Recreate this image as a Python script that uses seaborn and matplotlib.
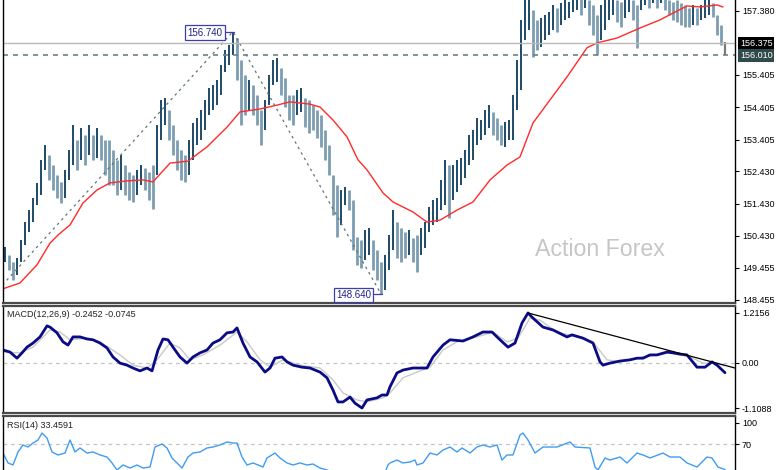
import numpy as np
import matplotlib
matplotlib.use("Agg")
import matplotlib.pyplot as plt
from matplotlib import transforms
import seaborn as sns

# ---------------- data ----------------
highs = [
    150.09, 149.84, 149.63, 149.75, 150.31, 150.86, 151.23, 151.60, 152.07, 152.78,
    153.24, 152.93, 152.62, 152.31, 152.10, 152.47, 153.09, 153.86, 153.39, 153.76,
    153.55, 153.86, 153.55, 153.76, 153.55, 153.39, 153.39, 153.09, 152.78, 152.93,
    152.62, 152.41, 152.31, 152.47, 152.62, 152.53, 152.41, 152.62, 153.86, 154.63,
    154.69, 154.32, 153.86, 153.39, 153.09, 152.93, 153.39, 153.92, 154.07, 154.32,
    154.63, 155.00, 155.09, 155.25, 155.71, 156.17, 156.33, 156.74, 156.54, 155.86,
    155.40, 155.25, 155.09, 154.78, 154.32, 154.63, 155.40, 155.86, 155.92, 155.61,
    155.31, 154.78, 154.78, 154.94, 155.00, 154.69, 154.63, 154.47, 154.32, 154.16,
    153.70, 153.24, 152.31, 152.00, 151.85, 151.94, 151.85, 151.54, 150.40, 150.31,
    150.62, 150.68, 150.31, 150.00, 149.63, 149.84, 150.46, 151.23, 150.86, 150.68,
    150.55, 150.62, 150.37, 150.46, 150.68, 150.86, 151.32, 151.54, 151.60, 152.16,
    152.78, 152.62, 152.62, 152.78, 152.84, 153.09, 153.55, 153.70, 154.07, 154.01,
    154.32, 154.47, 154.26, 154.07, 153.86, 153.95, 154.01, 154.78, 155.86, 157.10,
    158.02, 157.87, 157.41, 157.10, 157.16, 157.25, 157.34, 157.56, 157.47, 157.62,
    157.71, 157.65, 157.81, 157.87, 157.78, 157.87, 157.71, 157.56, 157.25, 157.56,
    157.71, 157.87, 157.81, 157.71, 157.65, 157.78, 157.87, 157.71, 157.56, 157.87,
    157.96, 157.90, 158.02, 157.87, 157.96, 157.87, 157.71, 157.65, 157.71, 157.62,
    157.56, 157.47, 157.56, 157.47, 157.56, 157.71, 157.71, 157.62, 157.25, 156.94,
    156.42]
lows = [
    149.63, 149.38, 149.07, 149.23, 149.63, 150.15, 150.55, 150.86, 151.39, 151.70,
    152.47, 152.16, 151.85, 151.60, 151.45, 151.60, 152.16, 152.62, 152.47, 152.78,
    152.62, 152.93, 152.78, 152.84, 152.78, 152.31, 152.00, 152.00, 151.70, 151.85,
    151.70, 151.54, 151.48, 151.70, 152.00, 151.85, 151.54, 151.26, 152.31, 153.39,
    153.86, 153.39, 152.93, 152.47, 152.16, 152.10, 152.31, 152.78, 153.24, 153.39,
    153.70, 154.16, 154.32, 154.47, 154.78, 155.49, 155.71, 156.02, 155.25, 153.86,
    154.16, 154.32, 154.16, 153.86, 153.24, 153.70, 154.47, 155.09, 155.18, 154.78,
    154.41, 154.01, 153.86, 154.16, 154.26, 153.79, 153.61, 153.70, 153.46, 153.18,
    152.78, 152.31, 151.08, 150.40, 150.77, 151.39, 151.23, 150.00, 149.54, 149.44,
    149.69, 149.84, 149.38, 149.07, 148.64, 148.76, 149.38, 150.00, 149.75, 149.63,
    149.75, 149.84, 149.63, 149.32, 149.84, 150.06, 150.55, 150.77, 150.86, 151.23,
    151.39, 150.99, 151.54, 151.79, 152.00, 152.22, 152.62, 152.78, 153.24, 153.39,
    153.55, 153.76, 153.55, 153.39, 153.24, 153.18, 153.39, 153.39, 154.32, 154.94,
    156.48, 156.79, 155.95, 156.17, 156.26, 156.48, 156.63, 156.79, 156.73, 156.94,
    157.10, 157.16, 157.34, 157.41, 157.25, 157.47, 156.94, 156.63, 156.02, 156.48,
    156.79, 157.10, 157.25, 157.03, 156.88, 157.16, 157.34, 157.10, 156.23, 157.41,
    157.56, 157.47, 157.62, 157.47, 157.62, 157.41, 157.25, 157.10, 157.03, 156.94,
    156.88, 156.88, 156.94, 156.94, 157.10, 157.16, 157.25, 157.19, 156.63, 156.33,
    156.01]

ma_x = [-0.75, 3.75, 8.0, 11.25, 13.25, 16.25, 19.5, 23.0, 26.25, 30.5, 34.5, 37.0,
        41.25, 45.75, 50.5, 55.5, 58.75, 63.75, 68.0, 71.25, 76.25, 78.75, 82.0, 85.5,
        88.25, 90.5, 94.5, 97.0, 102.0, 105.5, 108.75, 113.0, 117.0, 121.25, 125.5,
        128.75, 132.0, 136.25, 140.5, 145.5, 148.0, 153.0, 158.75, 163.75, 167.0,
        170.5, 173.75, 178.0, 179.5]
ma_y = [148.79, 148.98, 149.54, 150.21, 150.46, 150.77, 151.45, 151.85, 152.07, 152.13,
        152.16, 152.10, 152.68, 152.74, 153.18, 153.79, 154.26, 154.35, 154.47, 154.57,
        154.50, 154.41, 154.01, 153.49, 152.78, 152.47, 151.76, 151.48, 151.17, 150.86,
        150.92, 151.23, 151.48, 152.16, 152.62, 152.87, 153.92, 154.63, 155.34, 156.24,
        156.39, 156.54, 156.85, 157.10, 157.31, 157.53, 157.50, 157.56, 157.50]

zz_x = [-0.625, 57, 94]
zz_y = [148.92, 156.74, 148.64]

price_ticks = [157.380, 155.405, 154.405, 153.405, 152.430, 151.430, 150.430, 149.455, 148.455]
bid_price = 156.375
last_price = 156.010
high_label = 156.740
low_label = 148.640

macd_x = [-0.5, 1.25, 3.0, 4.25, 5.5, 7.0, 8.75, 10.5, 11.25, 13.0,
          14.5, 15.75, 17.0, 18.75, 20.5, 22.0, 23.75, 25.5, 27.0, 28.75,
          30.5, 32.0, 33.75, 35.5, 36.75, 38.25, 39.5, 40.75, 42.0, 43.75,
          45.5, 47.0, 48.75, 50.5, 52.0, 53.75, 55.5, 57.0, 58.0, 59.5,
          61.25, 63.0, 65.0, 66.25, 67.5, 69.25, 70.5, 72.0, 74.25, 76.25,
          78.75, 80.5, 82.0, 83.25, 84.5, 86.25, 87.5, 89.25, 90.5, 93.0,
          94.25, 95.5, 96.25, 98.0, 99.5, 102.0, 105.5, 107.0, 109.5, 111.25,
          114.5, 117.0, 119.5, 121.75, 123.75, 125.75, 127.5, 129.25, 130.75, 132.0,
          134.5, 137.0, 140.5, 141.75, 144.5, 147.0, 148.75, 149.5, 151.25, 153.75,
          156.25, 158.0, 159.5, 161.25, 163.0, 165.5, 167.0, 168.75, 170.5, 173.0,
          175.0, 176.75, 178.0, 180.0]
macd_y = [0.31, 0.26, 0.11, 0.24, 0.38, 0.48, 0.63, 0.90, 0.87, 0.73,
          0.51, 0.43, 0.63, 0.63, 0.58, 0.56, 0.48, 0.36, 0.14, -0.01,
          -0.06, -0.13, -0.20, -0.13, -0.20, 0.31, 0.58, 0.56, 0.38, 0.14,
          -0.01, 0.14, 0.24, 0.31, 0.48, 0.56, 0.73, 0.75, 0.85, 0.48,
          0.14, 0.02, -0.23, -0.13, 0.11, 0.14, 0.02, -0.06, -0.11, -0.13,
          -0.23, -0.37, -0.67, -0.96, -0.96, -0.84, -0.99, -1.1088, -0.91, -0.86,
          -0.79, -0.79, -0.59, -0.25, -0.18, -0.13, -0.13, 0.14, 0.43, 0.56,
          0.53, 0.63, 0.75, 0.75, 0.56, 0.38, 0.48, 0.97, 1.2156, 1.09,
          0.87, 0.80, 0.63, 0.68, 0.60, 0.48, 0.02, -0.06, -0.01, 0.04,
          0.07, 0.11, 0.11, 0.19, 0.19, 0.26, 0.24, 0.21, 0.19, -0.11,
          -0.11, 0.02, -0.06, -0.2452]
sig_x = [-0.5, 3.75, 7.0, 11.25, 13.75, 16.25, 20.5, 23.75, 28.75, 32.0,
         35.5, 38.0, 41.25, 43.75, 46.25, 49.5, 53.75, 58.0, 60.5, 63.75,
         66.25, 69.5, 73.75, 78.75, 82.0, 84.5, 88.0, 90.5, 94.5, 96.25,
         99.5, 103.0, 106.25, 109.5, 113.0, 118.0, 122.0, 125.5, 128.25, 131.25,
         133.75, 138.0, 143.0, 147.0, 150.5, 153.75, 159.5, 166.25, 171.25, 174.5,
         177.0, 180.0]
sig_y = [0.26, 0.24, 0.38, 0.80, 0.75, 0.56, 0.60, 0.51, 0.19, -0.06,
         -0.13, 0.07, 0.48, 0.36, 0.07, 0.19, 0.43, 0.75, 0.51, 0.07,
         -0.11, 0.07, -0.06, -0.13, -0.42, -0.74, -0.91, -0.96, -0.86, -0.74,
         -0.37, -0.23, -0.11, 0.31, 0.51, 0.63, 0.75, 0.51, 0.60, 1.09,
         1.04, 0.75, 0.63, 0.51, 0.07, 0.02, 0.14, 0.24, 0.14, -0.01,
         -0.01, -0.0745]
trend_x = [130.75, 182.5]
trend_y = [1.2156, -0.13]
macd_ticks = [1.2156, 0.0, -1.1088]
macd_ticklabels = ["1.2156", "0.00", "-1.1088"]

rsi_x = [-0.5, 0.75, 2.0, 3.25, 4.5, 5.75, 7.0, 8.25, 9.25, 10.5,
         11.75, 13.25, 15.0, 16.25, 17.5, 18.75, 20.5, 22.0, 23.75, 25.5,
         26.75, 28.0, 29.5, 31.25, 33.0, 34.5, 36.25, 37.5, 39.25, 40.5,
         41.75, 43.0, 44.25, 45.75, 47.0, 48.75, 50.5, 52.0, 53.75, 55.5,
         57.0, 58.0, 59.25, 60.5, 62.0, 64.5, 65.5, 67.5, 68.75, 70.5,
         72.0, 73.75, 75.5, 77.0, 78.75, 80.5, 82.5, 85.0, 87.5, 89.25,
         91.25, 93.25, 94.5, 95.75, 96.25, 98.0, 99.5, 101.25, 102.5, 103.0,
         104.5, 106.25, 108.0, 109.5, 111.25, 113.0, 114.25, 116.25, 118.0, 119.5,
         121.25, 123.0, 124.25, 125.5, 127.0, 128.75, 129.5, 130.75, 132.5, 134.5,
         138.0, 141.25, 142.5, 146.25, 147.5, 148.25, 150.0, 151.25, 153.75, 155.5,
         158.0, 159.5, 161.25, 164.5, 166.25, 168.75, 170.5, 173.0, 175.5, 176.75,
         178.25, 180.0]
rsi_y = [57.1, 42.9, 40.0, 58.6, 68.6, 65.7, 71.4, 75.7, 85.7, 78.6,
         58.6, 54.3, 57.1, 75.7, 58.6, 64.3, 57.1, 58.6, 54.3, 51.4,
         42.9, 32.9, 40.0, 35.7, 40.0, 35.7, 37.1, 65.7, 70.0, 64.3,
         50.0, 42.9, 35.7, 51.4, 57.1, 58.6, 64.3, 65.7, 68.6, 72.9,
         71.4, 71.4, 51.4, 40.0, 42.9, 37.1, 50.0, 57.1, 50.0, 42.9,
         40.0, 42.9, 40.0, 41.4, 35.7, 32.9, 28.0, 25.0, 27.0, 22.0,
         28.0, 25.0, 22.0, 40.0, 42.9, 47.1, 42.9, 44.3, 47.1, 40.0,
         42.9, 57.1, 54.3, 61.4, 65.7, 58.6, 64.3, 57.1, 65.7, 68.6,
         65.7, 68.6, 47.1, 54.3, 54.3, 82.9, 85.7, 75.7, 57.1, 65.7,
         65.7, 72.9, 65.7, 64.3, 37.1, 32.9, 50.0, 47.1, 51.4, 42.9,
         57.1, 54.3, 50.0, 57.1, 51.4, 51.4, 42.9, 37.1, 51.4, 50.0,
         37.1, 33.46]
rsi_ticks = [100, 70]

# ---------------- style ----------------
sns.set_theme(style="white")
plt.rcParams["font.family"] = ["Liberation Sans", "DejaVu Sans"]
FS = 6.5

fig = plt.figure(figsize=(7.8, 4.7), dpi=100)
L, W = 2.5 / 780, 732.5 / 780
ax = fig.add_axes([L, 167 / 470, W, 303 / 470])
axm = fig.add_axes([L, 57 / 470, W, 107 / 470])
axr = fig.add_axes([L, -30 / 470, W, 84 / 470])

XL = (-0.625, 182.5)

# ---------------- price bars ----------------
h = np.array(highs)
l = np.array(lows)
idx = np.arange(len(h))
mid = (h + l) / 2
up = np.r_[True, mid[1:] >= mid[:-1]]
last = idx == idx[-1]
dark = up & ~last
light = ~up & ~last
ax.vlines(idx[light], l[light], h[light], colors="#7d9db2", linewidth=2.0)
ax.vlines(idx[dark], l[dark], h[dark], colors="#1d4b68", linewidth=1.4)
ax.vlines(idx[last], l[last], h[last], colors="#7a7a7a", linewidth=1.6)

sns.lineplot(x=ma_x, y=ma_y, ax=ax, color="#ff2a2a", linewidth=1.0)
ax.plot(zz_x, zz_y, color="#5f7474", linewidth=0.9, linestyle=(0, (2, 3)))

ax.axhline(bid_price, color="#b9b9b9", linewidth=1.0)
ax.axhline(last_price, color="#6c8282", linewidth=1.2, linestyle=(0, (3, 3)))

ax.set_xlim(*XL)
ax.set_ylim(148.362, 157.714)
ax.set_xticks([])
ax.yaxis.tick_right()
ax.set_yticks(price_ticks)
ax.set_yticklabels([f"{t:.3f}" for t in price_ticks])
for a in (ax, axm, axr):
    a.tick_params(axis="y", which="both", right=True, left=False, length=3,
                  width=0.8, pad=2, labelsize=FS, colors="black")
    a.set_xticks([])
    a.set_xlim(*XL)
    for s in ("left", "right"):
        a.spines[s].set_color("black")
        a.spines[s].set_linewidth(1.0)
    for s in ("top", "bottom"):
        a.spines[s].set_color("#4a4a4a")
        a.spines[s].set_linewidth(1.6)
ax.spines["top"].set_visible(False)
axr.spines["bottom"].set_visible(False)

trans = transforms.blended_transform_factory(ax.transAxes, ax.transData)
ax.annotate(f"{bid_price:.3f}", xy=(1, bid_price), xycoords=trans, xytext=(3.5, 0),
            textcoords="offset points", ha="left", va="center", fontsize=FS,
            color="white", annotation_clip=False,
            bbox=dict(boxstyle="square,pad=0.22", fc="black", ec="none"))
ax.annotate(f"{last_price:.3f}", xy=(1, last_price), xycoords=trans, xytext=(3.5, 0),
            textcoords="offset points", ha="left", va="center", fontsize=FS,
            color="white", annotation_clip=False,
            bbox=dict(boxstyle="square,pad=0.22", fc="#2f4a4a", ec="none"))

# high / low labels
ax.text(50.0, 156.71, f"{high_label:.3f}", ha="center", va="center", fontsize=FS + 0.5,
        color="#1f1f8a", bbox=dict(boxstyle="square,pad=0.22", fc="white",
                                   ec="#3d3dae", lw=0.9))
ax.plot([55.3, 57.3], [156.74, 156.74], color="#3d3dae", linewidth=0.9)
ax.text(87.1, 148.62, f"{low_label:.3f}", ha="center", va="center", fontsize=FS + 0.5,
        color="#1f1f8a", bbox=dict(boxstyle="square,pad=0.22", fc="white",
                                   ec="#3d3dae", lw=0.9))
ax.plot([92.2, 94.2], [148.64, 148.64], color="#3d3dae", linewidth=0.9)

ax.text(0.8157, 0.178, "Action Forex", transform=ax.transAxes, fontsize=16.7,
        color="#c6c6c6", ha="center", va="center")

# ---------------- MACD ----------------
axm.axhline(0, color="#c4c4c4", linewidth=0.9, linestyle=(0, (3, 3)))
sns.lineplot(x=sig_x, y=sig_y, ax=axm, color="#c9c9c9", linewidth=1.0)
sns.lineplot(x=macd_x, y=macd_y, ax=axm, color="#0b0b86", linewidth=2.0)
axm.plot(trend_x, trend_y, color="black", linewidth=0.9)
axm.set_ylim(-1.230, 1.386)
axm.set_xlim(*XL)
axm.yaxis.tick_right()
axm.set_yticks(macd_ticks)
axm.set_yticklabels(macd_ticklabels)
axm.text(0.006, 0.965, "MACD(12,26,9) -0.2452 -0.0745", transform=axm.transAxes,
         ha="left", va="top", fontsize=FS, color="#222222")

# ---------------- RSI ----------------
axr.axhline(70, color="#c4c4c4", linewidth=0.9, linestyle=(0, (3, 3)))
sns.lineplot(x=rsi_x, y=rsi_y, ax=axr, color="#3f9cf2", linewidth=1.0)
axr.set_ylim(-10, 110)
axr.set_xlim(*XL)
axr.yaxis.tick_right()
axr.set_yticks(rsi_ticks)
axr.set_yticklabels([str(t) for t in rsi_ticks])
axr.text(0.006, 0.94, "RSI(14) 33.4591", transform=axr.transAxes,
         ha="left", va="top", fontsize=FS, color="#222222")

for a in (ax, axm, axr):
    a.set_xlabel("")
    a.set_ylabel("")
    a.set_xticks([])

fig.savefig("out.png", dpi=100, facecolor="white")
